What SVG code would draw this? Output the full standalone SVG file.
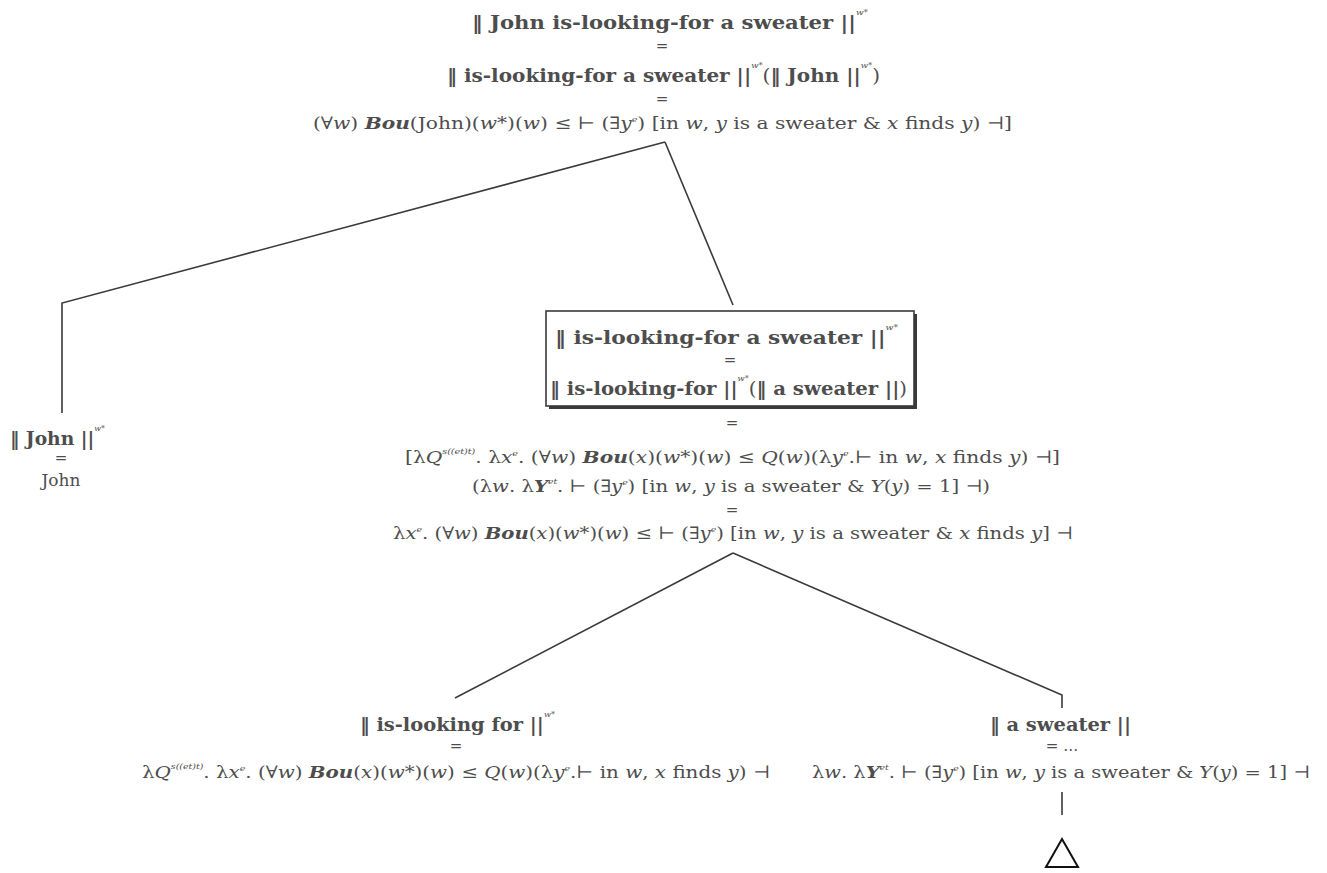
<svg xmlns="http://www.w3.org/2000/svg" width="1327" height="873" viewBox="0 0 1327 873">
  <style>
    text { font-family: "DejaVu Serif", "Liberation Serif", serif; fill: #4d4d4d; }
    .b { font-size: 19px; font-weight: bold; }
    .r { font-size: 17px; }
    .eq { font-size: 15px; text-anchor: middle; }
    .i { font-style: italic; }
    .bi { font-style: italic; font-weight: bold; }
    .s { font-size: 8px; font-style: italic; font-weight: normal; }
    .edge { stroke: #3a3a3a; stroke-width: 1.6; fill: none; }
  </style>
  <rect width="1327" height="873" fill="#ffffff"/>

  <g id="connectors">
    <polyline class="edge" points="665,142 62,303 62,413"/>
    <line class="edge" x1="665" y1="142" x2="733" y2="305"/>
    <line class="edge" x1="733" y1="553" x2="455" y2="698"/>
    <polyline class="edge" points="733,553 1062,695 1062,708"/>
    <line class="edge" x1="1062" y1="792" x2="1062" y2="815"/>
  </g>

  <g id="root">
    <text class="b" x="472" y="29" textLength="396" lengthAdjust="spacingAndGlyphs">‖ John is-looking-for a sweater ||<tspan class="s" dy="-14">w*</tspan></text>
    <text class="eq" x="662" y="51">=</text>
    <text class="b" x="447" y="82" textLength="433" lengthAdjust="spacingAndGlyphs">‖ is-looking-for a sweater ||<tspan class="s" dy="-14">w*</tspan><tspan dy="14" font-weight="normal">(</tspan>‖ John ||<tspan class="s" dy="-14">w*</tspan><tspan dy="14" font-weight="normal">)</tspan></text>
    <text class="eq" x="662" y="104">=</text>
    <text class="r" x="313" y="129" textLength="699" lengthAdjust="spacingAndGlyphs">(∀<tspan class="i">w</tspan>) <tspan class="bi">Bou</tspan>(John)(<tspan class="i">w</tspan>*)(<tspan class="i">w</tspan>) ≤ ⊢ (∃<tspan class="i">y</tspan><tspan class="s" dy="-7">e</tspan><tspan dy="7">) [in </tspan><tspan class="i">w</tspan>, <tspan class="i">y</tspan> is a sweater &amp; <tspan class="i">x</tspan> finds <tspan class="i">y</tspan>) ⊣]</text>
  </g>

  <g id="john">
    <text class="b" x="10" y="445" textLength="95" lengthAdjust="spacingAndGlyphs">‖ John ||<tspan class="s" dy="-14">w*</tspan></text>
    <text class="eq" x="61" y="463">=</text>
    <text class="r" x="61" y="486" text-anchor="middle" font-size="19">John</text>
  </g>

  <g id="vp">
    <rect x="549" y="314" width="368" height="95" fill="#3a3a3a"/>
    <rect x="546" y="311" width="368" height="95" fill="#ffffff" stroke="#3a3a3a" stroke-width="1.6"/>
    <text class="b" x="555" y="344" textLength="343" lengthAdjust="spacingAndGlyphs">‖ is-looking-for a sweater ||<tspan class="s" dy="-14">w*</tspan></text>
    <text class="eq" x="730" y="365">=</text>
    <text class="b" x="550" y="395" textLength="357" lengthAdjust="spacingAndGlyphs">‖ is-looking-for ||<tspan class="s" dy="-14">w*</tspan><tspan dy="14" font-weight="normal">(</tspan>‖ a sweater ||<tspan font-weight="normal">)</tspan></text>
    <text class="eq" x="732" y="428">=</text>
    <text class="r" x="405" y="463" textLength="655" lengthAdjust="spacingAndGlyphs">[λ<tspan class="i">Q</tspan><tspan class="s" dy="-9">s((et)t)</tspan><tspan dy="9">. λ</tspan><tspan class="i">x</tspan><tspan class="s" dy="-7">e</tspan><tspan dy="7">. (∀</tspan><tspan class="i">w</tspan>) <tspan class="bi">Bou</tspan>(<tspan class="i">x</tspan>)(<tspan class="i">w</tspan>*)(<tspan class="i">w</tspan>) ≤ <tspan class="i">Q</tspan>(<tspan class="i">w</tspan>)(λ<tspan class="i">y</tspan><tspan class="s" dy="-7">e</tspan><tspan dy="7">.⊢ in </tspan><tspan class="i">w</tspan>, <tspan class="i">x</tspan> finds <tspan class="i">y</tspan>) ⊣]</text>
    <text class="r" x="472" y="492" textLength="518" lengthAdjust="spacingAndGlyphs">(λ<tspan class="i">w</tspan>. λ<tspan class="bi">Y</tspan><tspan class="s" dy="-8" font-weight="bold">et</tspan><tspan dy="8">. ⊢ (∃</tspan><tspan class="i">y</tspan><tspan class="s" dy="-7">e</tspan><tspan dy="7">) [in </tspan><tspan class="i">w</tspan>, <tspan class="i">y</tspan> is a sweater &amp; <tspan class="i">Y</tspan>(<tspan class="i">y</tspan>) = 1] ⊣)</text>
    <text class="eq" x="732" y="515">=</text>
    <text class="r" x="393" y="539" textLength="680" lengthAdjust="spacingAndGlyphs">λ<tspan class="i">x</tspan><tspan class="s" dy="-7">e</tspan><tspan dy="7">. (∀</tspan><tspan class="i">w</tspan>) <tspan class="bi">Bou</tspan>(<tspan class="i">x</tspan>)(<tspan class="i">w</tspan>*)(<tspan class="i">w</tspan>) ≤ ⊢ (∃<tspan class="i">y</tspan><tspan class="s" dy="-7">e</tspan><tspan dy="7">) [in </tspan><tspan class="i">w</tspan>, <tspan class="i">y</tspan> is a sweater &amp; <tspan class="i">x</tspan> finds <tspan class="i">y</tspan>] ⊣</text>
  </g>

  <g id="verb">
    <text class="b" x="360" y="731" textLength="195" lengthAdjust="spacingAndGlyphs">‖ is-looking for ||<tspan class="s" dy="-14">w*</tspan></text>
    <text class="eq" x="456" y="751">=</text>
    <text class="r" x="142" y="778" textLength="628" lengthAdjust="spacingAndGlyphs">λ<tspan class="i">Q</tspan><tspan class="s" dy="-9">s((et)t)</tspan><tspan dy="9">. λ</tspan><tspan class="i">x</tspan><tspan class="s" dy="-7">e</tspan><tspan dy="7">. (∀</tspan><tspan class="i">w</tspan>) <tspan class="bi">Bou</tspan>(<tspan class="i">x</tspan>)(<tspan class="i">w</tspan>*)(<tspan class="i">w</tspan>) ≤ <tspan class="i">Q</tspan>(<tspan class="i">w</tspan>)(λ<tspan class="i">y</tspan><tspan class="s" dy="-7">e</tspan><tspan dy="7">.⊢ in </tspan><tspan class="i">w</tspan>, <tspan class="i">x</tspan> finds <tspan class="i">y</tspan>) ⊣</text>
  </g>

  <g id="np">
    <text class="b" x="990" y="731" textLength="141" lengthAdjust="spacingAndGlyphs">‖ a sweater ||</text>
    <text class="eq" x="1062" y="751">= …</text>
    <text class="r" x="812" y="778" textLength="498" lengthAdjust="spacingAndGlyphs">λ<tspan class="i">w</tspan>. λ<tspan class="bi">Y</tspan><tspan class="s" dy="-8" font-weight="bold">et</tspan><tspan dy="8">. ⊢ (∃</tspan><tspan class="i">y</tspan><tspan class="s" dy="-7">e</tspan><tspan dy="7">) [in </tspan><tspan class="i">w</tspan>, <tspan class="i">y</tspan> is a sweater &amp; <tspan class="i">Y</tspan>(<tspan class="i">y</tspan>) = 1] ⊣</text>
    <polygon points="1062,839 1046,867 1078,867" fill="#ffffff" stroke="#111111" stroke-width="2"/>
  </g>
</svg>
